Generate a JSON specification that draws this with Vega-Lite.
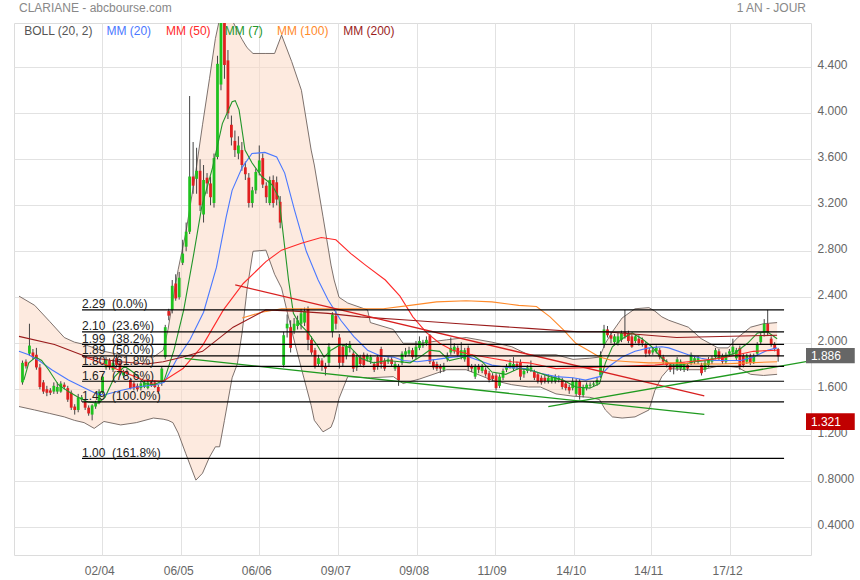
{
"$schema":"https://vega.github.io/schema/vega-lite/v6.json",
"width":797,"height":532,
"autosize":{"type":"none"},
"padding":{"left":14,"top":23,"right":49,"bottom":25},
"background":"white",
"config":{"font":"Liberation Sans","view":{"stroke":"#dcdcdc","strokeWidth":1}},
"resolve":{"scale":{"color":"independent"}},
"datasets":{
"band":[
{"x":0,"up":2.41,"lo":1.45},{"x":4.5,"up":2.33,"lo":1.42},{"x":8.8,"up":2.19,"lo":1.39},{"x":13.0,"up":2.05,"lo":1.36},{"x":15.9,"up":2.01,"lo":1.33},{"x":18.7,"up":1.99,"lo":1.31},{"x":21.6,"up":1.96,"lo":1.26},{"x":24.4,"up":1.93,"lo":1.32},{"x":29.2,"up":1.90,"lo":1.29},{"x":33.7,"up":1.89,"lo":1.31},{"x":38.6,"up":1.88,"lo":1.35},{"x":41.4,"up":1.94,"lo":1.34},{"x":42.8,"up":2.12,"lo":1.33},{"x":44.2,"up":2.38,"lo":1.31},{"x":45.7,"up":2.64,"lo":1.22},{"x":47.9,"up":2.96,"lo":1.04},{"x":50.8,"up":3.50,"lo":0.81},{"x":52.7,"up":3.90,"lo":0.87},{"x":54.7,"up":4.30,"lo":1.01},{"x":56.4,"up":4.65,"lo":1.10},{"x":57.6,"up":4.82,"lo":1.10},{"x":59.0,"up":4.90,"lo":1.33},{"x":61.2,"up":4.81,"lo":1.70},{"x":62.7,"up":4.72,"lo":1.82},{"x":64.1,"up":4.64,"lo":2.10},{"x":65.5,"up":4.57,"lo":2.47},{"x":67.2,"up":4.52,"lo":2.80},{"x":70.9,"up":4.52,"lo":2.81},{"x":73.4,"up":4.52,"lo":2.60},{"x":75.4,"up":4.68,"lo":2.48},{"x":78.3,"up":4.45,"lo":2.11},{"x":81.1,"up":4.20,"lo":1.78},{"x":83.9,"up":3.68,"lo":1.46},{"x":84.8,"up":3.55,"lo":1.33},{"x":87.3,"up":3.10,"lo":1.23},{"x":89.6,"up":2.68,"lo":1.27},{"x":90.5,"up":2.55,"lo":1.34},{"x":91.9,"up":2.40,"lo":1.52},{"x":94.4,"up":2.35,"lo":1.71},{"x":100.1,"up":2.29,"lo":1.70},{"x":100.9,"up":2.18,"lo":1.70},{"x":107.5,"up":2.12,"lo":1.71},{"x":110.3,"up":2.00,"lo":1.65},{"x":115.1,"up":2.00,"lo":1.69},{"x":122.8,"up":2.03,"lo":1.77},{"x":128.4,"up":2.05,"lo":1.77},{"x":135.8,"up":2.01,"lo":1.68},{"x":141.5,"up":1.97,"lo":1.64},{"x":146.3,"up":1.90,"lo":1.62},{"x":149.7,"up":1.90,"lo":1.62},{"x":154.2,"up":1.90,"lo":1.56},{"x":159.1,"up":1.86,"lo":1.54},{"x":163.9,"up":1.87,"lo":1.53},{"x":166.7,"up":1.88,"lo":1.51},{"x":168.4,"up":2.00,"lo":1.42},{"x":170.4,"up":2.10,"lo":1.36},{"x":173.2,"up":2.22,"lo":1.35},{"x":176.9,"up":2.30,"lo":1.36},{"x":180.9,"up":2.31,"lo":1.42},{"x":182.6,"up":2.28,"lo":1.59},{"x":184.6,"up":2.23,"lo":1.71},{"x":186.6,"up":2.20,"lo":1.78},{"x":192.2,"up":2.14,"lo":1.77},{"x":195.9,"up":2.04,"lo":1.77},{"x":200.7,"up":1.96,"lo":1.80},{"x":203.6,"up":1.96,"lo":1.80},{"x":206.4,"up":2.05,"lo":1.79},{"x":210.1,"up":2.14,"lo":1.73},{"x":213.8,"up":2.17,"lo":1.72},{"x":217.7,"up":2.18,"lo":1.73}
],
"candles":[
{"x":1,"o":1.66,"h":1.85,"l":1.64,"c":1.83},{"x":2,"o":1.84,"h":1.86,"l":1.78,"c":1.80},{"x":3,"o":1.91,"h":2.17,"l":1.89,"c":1.98},{"x":4,"o":1.92,"h":1.95,"l":1.86,"c":1.88},{"x":5,"o":1.90,"h":1.96,"l":1.77,"c":1.79},{"x":6,"o":1.79,"h":1.82,"l":1.60,"c":1.62},{"x":7,"o":1.66,"h":1.68,"l":1.56,"c":1.58},{"x":8,"o":1.60,"h":1.63,"l":1.54,"c":1.57},{"x":9,"o":1.59,"h":1.61,"l":1.55,"c":1.57},{"x":10,"o":1.58,"h":1.66,"l":1.56,"c":1.63},
{"x":11,"o":1.58,"h":1.66,"l":1.56,"c":1.62},{"x":12,"o":1.58,"h":1.67,"l":1.57,"c":1.65},{"x":13,"o":1.64,"h":1.66,"l":1.60,"c":1.62},{"x":14,"o":1.61,"h":1.63,"l":1.49,"c":1.51},{"x":15,"o":1.57,"h":1.59,"l":1.42,"c":1.44},{"x":16,"o":1.45,"h":1.47,"l":1.38,"c":1.42},{"x":17,"o":1.42,"h":1.56,"l":1.40,"c":1.53},{"x":18,"o":1.51,"h":1.55,"l":1.49,"c":1.53},{"x":19,"o":1.49,"h":1.51,"l":1.42,"c":1.44},{"x":20,"o":1.44,"h":1.46,"l":1.37,"c":1.39},
{"x":21,"o":1.38,"h":1.47,"l":1.33,"c":1.46},{"x":22,"o":1.45,"h":1.50,"l":1.43,"c":1.48},{"x":23,"o":1.48,"h":1.60,"l":1.47,"c":1.58},{"x":24,"o":1.57,"h":1.73,"l":1.56,"c":1.71},{"x":25,"o":1.79,"h":1.88,"l":1.77,"c":1.86},{"x":26,"o":1.85,"h":1.87,"l":1.77,"c":1.79},{"x":27,"o":1.77,"h":1.86,"l":1.75,"c":1.83},{"x":28,"o":1.87,"h":1.90,"l":1.79,"c":1.81},{"x":29,"o":1.83,"h":1.85,"l":1.72,"c":1.74},{"x":30,"o":1.72,"h":1.77,"l":1.70,"c":1.75},
{"x":31,"o":1.76,"h":1.78,"l":1.72,"c":1.74},{"x":32,"o":1.68,"h":1.70,"l":1.60,"c":1.61},{"x":33,"o":1.65,"h":1.67,"l":1.59,"c":1.61},{"x":34,"o":1.63,"h":1.65,"l":1.58,"c":1.60},{"x":35,"o":1.61,"h":1.67,"l":1.59,"c":1.65},{"x":36,"o":1.62,"h":1.68,"l":1.61,"c":1.66},{"x":37,"o":1.61,"h":1.68,"l":1.60,"c":1.66},{"x":38,"o":1.66,"h":1.68,"l":1.62,"c":1.63},{"x":39,"o":1.66,"h":1.68,"l":1.61,"c":1.62},{"x":40,"o":1.62,"h":1.64,"l":1.56,"c":1.58},
{"x":41,"o":1.66,"h":1.80,"l":1.63,"c":1.78},{"x":42,"o":1.88,"h":2.16,"l":1.86,"c":2.14},{"x":43,"o":2.28,"h":2.30,"l":2.20,"c":2.24},{"x":44,"o":2.29,"h":2.55,"l":2.26,"c":2.50},{"x":45,"o":2.52,"h":2.60,"l":2.37,"c":2.39},{"x":46,"o":2.40,"h":2.62,"l":2.38,"c":2.57},{"x":47,"o":2.70,"h":2.90,"l":2.68,"c":2.78},{"x":48,"o":2.84,"h":3.05,"l":2.80,"c":2.97},{"x":49,"o":2.97,"h":4.15,"l":2.95,"c":3.45},{"x":50,"o":3.45,"h":3.75,"l":3.30,"c":3.37},
{"x":51,"o":3.43,"h":3.70,"l":3.30,"c":3.50},{"x":52,"o":3.50,"h":3.60,"l":3.15,"c":3.20},{"x":53,"o":3.12,"h":3.55,"l":3.05,"c":3.42},{"x":54,"o":3.44,"h":3.48,"l":3.30,"c":3.39},{"x":55,"o":3.39,"h":3.45,"l":3.20,"c":3.27},{"x":56,"o":3.22,"h":3.65,"l":3.18,"c":3.61},{"x":57,"o":3.62,"h":4.50,"l":3.60,"c":4.43},{"x":58,"o":4.25,"h":4.85,"l":4.20,"c":4.80},{"x":59,"o":4.80,"h":4.85,"l":4.30,"c":4.42},{"x":60,"o":4.46,"h":4.55,"l":3.95,"c":4.00},
{"x":61,"o":3.90,"h":3.98,"l":3.72,"c":3.79},{"x":62,"o":3.76,"h":3.85,"l":3.62,"c":3.68},{"x":63,"o":3.65,"h":3.80,"l":3.60,"c":3.72},{"x":64,"o":3.68,"h":3.75,"l":3.50,"c":3.55},{"x":65,"o":3.53,"h":3.58,"l":3.42,"c":3.47},{"x":66,"o":3.44,"h":3.48,"l":3.18,"c":3.22},{"x":67,"o":3.22,"h":3.36,"l":3.18,"c":3.33},{"x":68,"o":3.33,"h":3.52,"l":3.30,"c":3.49},{"x":69,"o":3.49,"h":3.72,"l":3.46,"c":3.59},{"x":70,"o":3.61,"h":3.65,"l":3.35,"c":3.38},
{"x":71,"o":3.37,"h":3.40,"l":3.22,"c":3.27},{"x":72,"o":3.22,"h":3.45,"l":3.20,"c":3.42},{"x":73,"o":3.42,"h":3.46,"l":3.18,"c":3.22},{"x":74,"o":3.40,"h":3.45,"l":3.20,"c":3.25},{"x":75,"o":3.23,"h":3.28,"l":3.00,"c":3.05},{"x":76,"o":1.81,"h":2.10,"l":1.79,"c":2.07},{"x":77,"o":2.13,"h":2.25,"l":2.05,"c":2.17},{"x":78,"o":2.14,"h":2.20,"l":1.92,"c":1.96},{"x":79,"o":2.11,"h":2.22,"l":2.08,"c":2.17},{"x":80,"o":2.15,"h":2.24,"l":2.12,"c":2.20},
{"x":81,"o":2.17,"h":2.30,"l":2.12,"c":2.26},{"x":82,"o":2.18,"h":2.31,"l":2.15,"c":2.28},{"x":83,"o":2.30,"h":2.32,"l":1.94,"c":2.03},{"x":84,"o":2.03,"h":2.06,"l":1.90,"c":1.92},{"x":85,"o":1.94,"h":1.96,"l":1.78,"c":1.80},{"x":86,"o":1.82,"h":1.90,"l":1.80,"c":1.87},{"x":87,"o":1.85,"h":1.87,"l":1.76,"c":1.80},{"x":88,"o":1.80,"h":1.83,"l":1.72,"c":1.78},{"x":89,"o":1.83,"h":2.00,"l":1.80,"c":1.97},{"x":90,"o":2.10,"h":2.27,"l":2.05,"c":2.25},
{"x":91,"o":2.24,"h":2.28,"l":2.12,"c":2.17},{"x":92,"o":2.05,"h":2.08,"l":1.78,"c":1.83},{"x":93,"o":1.97,"h":1.99,"l":1.80,"c":1.83},{"x":94,"o":1.89,"h":2.00,"l":1.86,"c":1.97},{"x":95,"o":1.96,"h":2.02,"l":1.92,"c":1.99},{"x":96,"o":1.91,"h":1.93,"l":1.75,"c":1.78},{"x":97,"o":1.79,"h":1.90,"l":1.76,"c":1.88},{"x":98,"o":1.88,"h":1.90,"l":1.80,"c":1.82},{"x":99,"o":1.90,"h":1.92,"l":1.79,"c":1.81},{"x":100,"o":1.86,"h":1.91,"l":1.84,"c":1.89},
{"x":101,"o":1.85,"h":1.90,"l":1.82,"c":1.88},{"x":102,"o":1.82,"h":1.84,"l":1.75,"c":1.77},{"x":103,"o":1.88,"h":1.90,"l":1.77,"c":1.80},{"x":104,"o":1.95,"h":1.97,"l":1.78,"c":1.82},{"x":105,"o":1.85,"h":1.87,"l":1.76,"c":1.78},{"x":106,"o":1.84,"h":1.88,"l":1.82,"c":1.86},{"x":107,"o":1.86,"h":1.88,"l":1.80,"c":1.82},{"x":108,"o":1.78,"h":1.84,"l":1.76,"c":1.82},{"x":109,"o":1.80,"h":1.82,"l":1.63,"c":1.68},{"x":110,"o":1.83,"h":1.93,"l":1.81,"c":1.91},
{"x":111,"o":1.90,"h":1.96,"l":1.88,"c":1.93},{"x":112,"o":1.91,"h":1.97,"l":1.89,"c":1.94},{"x":113,"o":1.94,"h":1.96,"l":1.86,"c":1.88},{"x":114,"o":1.88,"h":2.02,"l":1.86,"c":1.97},{"x":115,"o":1.96,"h":2.06,"l":1.94,"c":2.02},{"x":116,"o":1.98,"h":2.03,"l":1.96,"c":2.00},{"x":117,"o":2.00,"h":2.06,"l":1.98,"c":2.03},{"x":118,"o":2.07,"h":2.08,"l":1.82,"c":1.84},{"x":119,"o":1.84,"h":1.86,"l":1.77,"c":1.79},{"x":120,"o":1.82,"h":1.84,"l":1.76,"c":1.78},
{"x":121,"o":1.80,"h":1.82,"l":1.74,"c":1.78},{"x":122,"o":1.77,"h":1.83,"l":1.75,"c":1.80},{"x":123,"o":1.86,"h":1.92,"l":1.84,"c":1.89},{"x":124,"o":1.92,"h":2.05,"l":1.90,"c":1.96},{"x":125,"o":1.93,"h":2.00,"l":1.91,"c":1.97},{"x":126,"o":1.96,"h":1.98,"l":1.88,"c":1.90},{"x":127,"o":1.88,"h":2.01,"l":1.86,"c":1.94},{"x":128,"o":1.86,"h":1.96,"l":1.84,"c":1.94},{"x":129,"o":1.96,"h":1.98,"l":1.76,"c":1.80},{"x":130,"o":1.80,"h":1.82,"l":1.75,"c":1.78},
{"x":131,"o":1.71,"h":1.82,"l":1.69,"c":1.80},{"x":132,"o":1.80,"h":1.82,"l":1.74,"c":1.77},{"x":133,"o":1.76,"h":1.82,"l":1.74,"c":1.80},{"x":134,"o":1.77,"h":1.79,"l":1.71,"c":1.73},{"x":135,"o":1.74,"h":1.76,"l":1.66,"c":1.68},{"x":136,"o":1.72,"h":1.74,"l":1.67,"c":1.69},{"x":137,"o":1.72,"h":1.74,"l":1.59,"c":1.61},{"x":138,"o":1.63,"h":1.73,"l":1.61,"c":1.71},{"x":139,"o":1.70,"h":1.78,"l":1.68,"c":1.76},{"x":140,"o":1.77,"h":1.82,"l":1.75,"c":1.80},
{"x":141,"o":1.80,"h":1.86,"l":1.78,"c":1.83},{"x":142,"o":1.78,"h":1.88,"l":1.76,"c":1.82},{"x":143,"o":1.82,"h":1.84,"l":1.77,"c":1.80},{"x":144,"o":1.83,"h":1.86,"l":1.68,"c":1.71},{"x":145,"o":1.73,"h":1.78,"l":1.70,"c":1.76},{"x":146,"o":1.76,"h":1.81,"l":1.74,"c":1.79},{"x":147,"o":1.77,"h":1.85,"l":1.75,"c":1.79},{"x":148,"o":1.75,"h":1.77,"l":1.68,"c":1.70},{"x":149,"o":1.73,"h":1.75,"l":1.65,"c":1.67},{"x":150,"o":1.70,"h":1.72,"l":1.64,"c":1.66},
{"x":151,"o":1.70,"h":1.73,"l":1.65,"c":1.67},{"x":152,"o":1.67,"h":1.73,"l":1.65,"c":1.70},{"x":153,"o":1.67,"h":1.72,"l":1.65,"c":1.70},{"x":154,"o":1.67,"h":1.73,"l":1.65,"c":1.71},{"x":155,"o":1.68,"h":1.72,"l":1.66,"c":1.70},{"x":156,"o":1.68,"h":1.70,"l":1.60,"c":1.62},{"x":157,"o":1.65,"h":1.67,"l":1.59,"c":1.61},{"x":158,"o":1.62,"h":1.64,"l":1.56,"c":1.59},{"x":159,"o":1.61,"h":1.70,"l":1.59,"c":1.67},{"x":160,"o":1.56,"h":1.69,"l":1.54,"c":1.67},
{"x":161,"o":1.67,"h":1.69,"l":1.51,"c":1.55},{"x":162,"o":1.55,"h":1.64,"l":1.53,"c":1.62},{"x":163,"o":1.61,"h":1.66,"l":1.59,"c":1.64},{"x":164,"o":1.63,"h":1.66,"l":1.61,"c":1.64},{"x":165,"o":1.64,"h":1.67,"l":1.62,"c":1.65},{"x":166,"o":1.65,"h":1.70,"l":1.63,"c":1.68},{"x":167,"o":1.72,"h":1.93,"l":1.70,"c":1.90},{"x":168,"o":1.99,"h":2.16,"l":1.96,"c":2.12},{"x":169,"o":2.12,"h":2.15,"l":2.05,"c":2.07},{"x":170,"o":2.07,"h":2.10,"l":2.00,"c":2.04},
{"x":171,"o":2.01,"h":2.08,"l":1.99,"c":2.06},{"x":172,"o":2.00,"h":2.09,"l":1.98,"c":2.06},{"x":173,"o":2.03,"h":2.11,"l":2.01,"c":2.09},{"x":174,"o":2.10,"h":2.29,"l":2.04,"c":2.06},{"x":175,"o":2.09,"h":2.11,"l":2.00,"c":2.02},{"x":176,"o":2.06,"h":2.08,"l":1.96,"c":1.97},{"x":177,"o":2.02,"h":2.08,"l":2.00,"c":2.06},{"x":178,"o":2.04,"h":2.07,"l":1.98,"c":2.00},{"x":179,"o":2.03,"h":2.05,"l":1.97,"c":2.00},{"x":180,"o":1.99,"h":2.01,"l":1.88,"c":1.91},
{"x":181,"o":1.94,"h":1.96,"l":1.89,"c":1.91},{"x":182,"o":1.92,"h":1.96,"l":1.90,"c":1.94},{"x":183,"o":1.93,"h":1.98,"l":1.91,"c":1.96},{"x":184,"o":1.94,"h":1.96,"l":1.86,"c":1.88},{"x":185,"o":1.88,"h":1.90,"l":1.82,"c":1.84},{"x":186,"o":1.84,"h":1.86,"l":1.79,"c":1.81},{"x":187,"o":1.81,"h":1.83,"l":1.75,"c":1.77},{"x":188,"o":1.80,"h":1.82,"l":1.73,"c":1.79},{"x":189,"o":1.78,"h":1.88,"l":1.76,"c":1.86},{"x":190,"o":1.78,"h":1.86,"l":1.76,"c":1.84},
{"x":191,"o":1.77,"h":1.83,"l":1.75,"c":1.81},{"x":192,"o":1.81,"h":1.83,"l":1.76,"c":1.78},{"x":193,"o":1.83,"h":1.92,"l":1.81,"c":1.90},{"x":194,"o":1.84,"h":1.89,"l":1.82,"c":1.87},{"x":195,"o":1.84,"h":1.89,"l":1.82,"c":1.87},{"x":196,"o":1.81,"h":1.83,"l":1.72,"c":1.74},{"x":197,"o":1.77,"h":1.85,"l":1.75,"c":1.83},{"x":198,"o":1.81,"h":1.88,"l":1.79,"c":1.86},{"x":199,"o":1.84,"h":1.89,"l":1.82,"c":1.87},{"x":200,"o":1.88,"h":1.96,"l":1.86,"c":1.94},
{"x":201,"o":1.93,"h":1.95,"l":1.85,"c":1.87},{"x":202,"o":1.89,"h":1.91,"l":1.82,"c":1.84},{"x":203,"o":1.84,"h":1.92,"l":1.82,"c":1.90},{"x":204,"o":1.91,"h":1.95,"l":1.89,"c":1.93},{"x":205,"o":1.92,"h":2.04,"l":1.90,"c":1.97},{"x":206,"o":1.87,"h":1.96,"l":1.85,"c":1.94},{"x":207,"o":1.96,"h":1.98,"l":1.77,"c":1.80},{"x":208,"o":1.89,"h":1.91,"l":1.79,"c":1.81},{"x":209,"o":1.84,"h":1.91,"l":1.82,"c":1.89},{"x":210,"o":1.89,"h":1.91,"l":1.81,"c":1.83},
{"x":211,"o":1.84,"h":1.91,"l":1.82,"c":1.89},{"x":212,"o":1.91,"h":2.01,"l":1.89,"c":1.99},{"x":213,"o":2.01,"h":2.09,"l":1.99,"c":2.07},{"x":214,"o":2.09,"h":2.21,"l":2.06,"c":2.17},{"x":215,"o":2.17,"h":2.29,"l":2.07,"c":2.09},{"x":216,"o":2.04,"h":2.06,"l":1.97,"c":1.99},{"x":217,"o":1.99,"h":2.01,"l":1.93,"c":1.95},{"x":218,"o":1.95,"h":1.96,"l":1.84,"c":1.886}
],
"ma":[
{"s":"MM20","x":0,"v":1.93},{"s":"MM20","x":2.8,"v":1.90},{"s":"MM20","x":5.7,"v":1.85},{"s":"MM20","x":9.4,"v":1.77},{"s":"MM20","x":14.2,"v":1.68},{"s":"MM20","x":19,"v":1.61},{"s":"MM20","x":22.4,"v":1.56},{"s":"MM20","x":24.4,"v":1.55},{"s":"MM20","x":29.2,"v":1.59},{"s":"MM20","x":33.7,"v":1.62},{"s":"MM20","x":39.4,"v":1.64},{"s":"MM20","x":41.7,"v":1.66},{"s":"MM20","x":45.1,"v":1.85},{"s":"MM20","x":49.1,"v":2.03},{"s":"MM20","x":53,"v":2.27},{"s":"MM20","x":56.7,"v":2.66},{"s":"MM20","x":59.5,"v":3.1},{"s":"MM20","x":61.2,"v":3.33},{"s":"MM20","x":64.1,"v":3.53},{"s":"MM20","x":66.9,"v":3.65},{"s":"MM20","x":70.6,"v":3.66},{"s":"MM20","x":74,"v":3.62},{"s":"MM20","x":76.3,"v":3.48},{"s":"MM20","x":79.1,"v":3.16},{"s":"MM20","x":82.5,"v":2.8},{"s":"MM20","x":85.9,"v":2.55},{"s":"MM20","x":88.7,"v":2.38},{"s":"MM20","x":92.4,"v":2.2},{"s":"MM20","x":96.1,"v":2.06},{"s":"MM20","x":100.1,"v":1.94},{"s":"MM20","x":103.8,"v":1.89},{"s":"MM20","x":107.5,"v":1.88},{"s":"MM20","x":110.3,"v":1.85},{"s":"MM20","x":114.3,"v":1.84},{"s":"MM20","x":119.9,"v":1.86},{"s":"MM20","x":124.5,"v":1.88},{"s":"MM20","x":128.4,"v":1.89},{"s":"MM20","x":132.1,"v":1.85},{"s":"MM20","x":135.8,"v":1.81},{"s":"MM20","x":140.6,"v":1.79},{"s":"MM20","x":145.4,"v":1.78},{"s":"MM20","x":149.7,"v":1.74},{"s":"MM20","x":154.2,"v":1.71},{"s":"MM20","x":159.1,"v":1.70},{"s":"MM20","x":162.7,"v":1.68},{"s":"MM20","x":166.7,"v":1.71},{"s":"MM20","x":169.5,"v":1.80},{"s":"MM20","x":173.2,"v":1.88},{"s":"MM20","x":176.9,"v":1.93},{"s":"MM20","x":180.9,"v":1.96},{"s":"MM20","x":184.6,"v":1.97},{"s":"MM20","x":186.6,"v":1.96},{"s":"MM20","x":192.2,"v":1.90},{"s":"MM20","x":195.9,"v":1.87},{"s":"MM20","x":199.6,"v":1.85},{"s":"MM20","x":203.6,"v":1.85},{"s":"MM20","x":207.3,"v":1.85},{"s":"MM20","x":210.9,"v":1.88},{"s":"MM20","x":214.9,"v":1.94},{"s":"MM20","x":217.7,"v":1.96},
{"s":"MM7","x":1.4,"v":1.68},{"s":"MM7","x":2.8,"v":1.83},{"s":"MM7","x":4.8,"v":1.88},{"s":"MM7","x":6.5,"v":1.85},{"s":"MM7","x":8.5,"v":1.77},{"s":"MM7","x":11.3,"v":1.64},{"s":"MM7","x":14.2,"v":1.58},{"s":"MM7","x":17,"v":1.53},{"s":"MM7","x":19.8,"v":1.49},{"s":"MM7","x":22.7,"v":1.48},{"s":"MM7","x":24.7,"v":1.53},{"s":"MM7","x":27.5,"v":1.71},{"s":"MM7","x":30.3,"v":1.80},{"s":"MM7","x":33.2,"v":1.74},{"s":"MM7","x":36,"v":1.65},{"s":"MM7","x":38.8,"v":1.64},{"s":"MM7","x":41.7,"v":1.68},{"s":"MM7","x":44.5,"v":1.94},{"s":"MM7","x":47.3,"v":2.29},{"s":"MM7","x":50.2,"v":2.78},{"s":"MM7","x":52.5,"v":3.19},{"s":"MM7","x":55.6,"v":3.53},{"s":"MM7","x":58.4,"v":3.91},{"s":"MM7","x":61.2,"v":4.10},{"s":"MM7","x":62.1,"v":4.11},{"s":"MM7","x":63.2,"v":4.03},{"s":"MM7","x":64.9,"v":3.68},{"s":"MM7","x":66.9,"v":3.57},{"s":"MM7","x":69.7,"v":3.45},{"s":"MM7","x":72.6,"v":3.38},{"s":"MM7","x":74.6,"v":3.27},{"s":"MM7","x":75.4,"v":3.07},{"s":"MM7","x":77.4,"v":2.55},{"s":"MM7","x":78.8,"v":2.26},{"s":"MM7","x":80.5,"v":2.17},{"s":"MM7","x":83.1,"v":2.09},{"s":"MM7","x":85.9,"v":1.97},{"s":"MM7","x":87.6,"v":1.88},{"s":"MM7","x":89.6,"v":1.94},{"s":"MM7","x":92.4,"v":1.99},{"s":"MM7","x":95.3,"v":1.96},{"s":"MM7","x":98.1,"v":1.87},{"s":"MM7","x":101.8,"v":1.83},{"s":"MM7","x":105.8,"v":1.85},{"s":"MM7","x":109.4,"v":1.84},{"s":"MM7","x":112.3,"v":1.83},{"s":"MM7","x":115.1,"v":1.88},{"s":"MM7","x":117.9,"v":1.94},{"s":"MM7","x":120.8,"v":1.93},{"s":"MM7","x":123.6,"v":1.85},{"s":"MM7","x":126.5,"v":1.87},{"s":"MM7","x":130.1,"v":1.90},{"s":"MM7","x":133,"v":1.84},{"s":"MM7","x":135.8,"v":1.75},{"s":"MM7","x":139.8,"v":1.73},{"s":"MM7","x":143.5,"v":1.78},{"s":"MM7","x":146.3,"v":1.77},{"s":"MM7","x":148.6,"v":1.75},{"s":"MM7","x":152.5,"v":1.71},{"s":"MM7","x":156.2,"v":1.68},{"s":"MM7","x":159.9,"v":1.62},{"s":"MM7","x":163.9,"v":1.61},{"s":"MM7","x":166.7,"v":1.65},{"s":"MM7","x":168.4,"v":1.83},{"s":"MM7","x":170.4,"v":1.97},{"s":"MM7","x":173.2,"v":2.04},{"s":"MM7","x":176.1,"v":2.09},{"s":"MM7","x":178.9,"v":2.04},{"s":"MM7","x":181.7,"v":1.97},{"s":"MM7","x":184.6,"v":1.87},{"s":"MM7","x":187.4,"v":1.81},{"s":"MM7","x":190.2,"v":1.81},{"s":"MM7","x":193.9,"v":1.84},{"s":"MM7","x":197.9,"v":1.85},{"s":"MM7","x":201.6,"v":1.88},{"s":"MM7","x":205.3,"v":1.91},{"s":"MM7","x":209.2,"v":2.00},{"s":"MM7","x":212.1,"v":2.09},{"s":"MM7","x":214.9,"v":2.10},{"s":"MM7","x":217.7,"v":2.04},
{"s":"MM50","x":18.1,"v":1.89},{"s":"MM50","x":24.4,"v":1.82},{"s":"MM50","x":30.1,"v":1.75},{"s":"MM50","x":35.7,"v":1.68},{"s":"MM50","x":41.4,"v":1.67},{"s":"MM50","x":47.1,"v":1.78},{"s":"MM50","x":52.7,"v":1.98},{"s":"MM50","x":58.7,"v":2.29},{"s":"MM50","x":64.4,"v":2.52},{"s":"MM50","x":70.9,"v":2.71},{"s":"MM50","x":75.4,"v":2.81},{"s":"MM50","x":81.1,"v":2.87},{"s":"MM50","x":86.8,"v":2.92},{"s":"MM50","x":91,"v":2.90},{"s":"MM50","x":95.3,"v":2.78},{"s":"MM50","x":99.5,"v":2.68},{"s":"MM50","x":105.2,"v":2.55},{"s":"MM50","x":109.4,"v":2.41},{"s":"MM50","x":113.1,"v":2.23},{"s":"MM50","x":117.1,"v":2.09},{"s":"MM50","x":120.8,"v":2.00},{"s":"MM50","x":124.5,"v":1.94},{"s":"MM50","x":130.1,"v":1.90},{"s":"MM50","x":135.8,"v":1.87},{"s":"MM50","x":141.5,"v":1.84},{"s":"MM50","x":146.3,"v":1.83},{"s":"MM50","x":154.2,"v":1.78},{"s":"MM50","x":163.9,"v":1.79},{"s":"MM50","x":173.2,"v":1.80},{"s":"MM50","x":182.6,"v":1.81},{"s":"MM50","x":192.2,"v":1.84},{"s":"MM50","x":201.6,"v":1.87},{"s":"MM50","x":210.9,"v":1.93},{"s":"MM50","x":217.7,"v":1.94},
{"s":"MM100","x":64.1,"v":2.22},{"s":"MM100","x":69.7,"v":2.27},{"s":"MM100","x":75.4,"v":2.30},{"s":"MM100","x":86.8,"v":2.30},{"s":"MM100","x":104.6,"v":2.30},{"s":"MM100","x":112.3,"v":2.33},{"s":"MM100","x":119.9,"v":2.36},{"s":"MM100","x":128.4,"v":2.37},{"s":"MM100","x":135.8,"v":2.36},{"s":"MM100","x":143.5,"v":2.33},{"s":"MM100","x":148.6,"v":2.32},{"s":"MM100","x":152.5,"v":2.23},{"s":"MM100","x":156.2,"v":2.12},{"s":"MM100","x":159.9,"v":2.00},{"s":"MM100","x":163.9,"v":1.93},{"s":"MM100","x":166.7,"v":1.88},{"s":"MM100","x":170.4,"v":1.85},{"s":"MM100","x":175.2,"v":1.84},{"s":"MM100","x":180.9,"v":1.83},{"s":"MM100","x":187.4,"v":1.83},{"s":"MM100","x":193.9,"v":1.82},{"s":"MM100","x":201.6,"v":1.82},{"s":"MM100","x":209.2,"v":1.83},{"s":"MM100","x":217.7,"v":1.84},
{"s":"MM200","x":0,"v":2.06},{"s":"MM200","x":10.2,"v":1.99},{"s":"MM200","x":19.6,"v":1.88},{"s":"MM200","x":29.2,"v":1.84},{"s":"MM200","x":36.6,"v":1.82},{"s":"MM200","x":41.4,"v":1.84},{"s":"MM200","x":47.1,"v":1.88},{"s":"MM200","x":52.7,"v":1.93},{"s":"MM200","x":61.5,"v":2.14},{"s":"MM200","x":70.9,"v":2.29},{"s":"MM200","x":79.1,"v":2.28},{"s":"MM200","x":88.7,"v":2.26},{"s":"MM200","x":98.1,"v":2.23},{"s":"MM200","x":112.3,"v":2.20},{"s":"MM200","x":126.5,"v":2.17},{"s":"MM200","x":146.3,"v":2.13},{"s":"MM200","x":160.5,"v":2.10},{"s":"MM200","x":168.4,"v":2.10},{"s":"MM200","x":188.8,"v":2.05},{"s":"MM200","x":217.7,"v":2.07}
],
"trend":[
{"id":"r","x":62.1,"v":2.507},{"id":"r","x":196.8,"v":1.542},
{"id":"g1","x":47.6,"v":1.868},{"id":"g1","x":196.8,"v":1.381},
{"id":"g2","x":152.0,"v":1.45},{"id":"g2","x":226,"v":1.84}
],
"fib":[
{"v":2.29,"t":"2.29\u00a0 (0.0%)"},{"v":2.10,"t":"2.10\u00a0 (23.6%)"},{"v":1.99,"t":"1.99\u00a0 (38.2%)"},{"v":1.89,"t":"1.89\u00a0 (50.0%)"},{"v":1.80,"t":"1.80\u00a0 (61.8%)"},{"v":1.67,"t":"1.67\u00a0 (78.6%)"},{"v":1.49,"t":"1.49\u00a0 (100.0%)"},{"v":1.00,"t":"1.00\u00a0 (161.8%)"}
],
"legend":[
{"t":"BOLL (20, 2)","x":1.5},{"t":"MM (20)","x":25.1},{"t":"MM (50)","x":42.2},{"t":"MM (7)","x":59.1},{"t":"MM (100)","x":74.1},{"t":"MM (200)","x":93.1}
],
"titles":[
{"t":"CLARIANE - abcbourse.com","x":0,"a":"left"},{"t":"1 AN - JOUR","x":226,"a":"right"}
],
"price":[
{"t":"1.886","v":1.89,"top":1.958,"bot":1.826},{"t":"1.321","v":1.318,"top":1.391,"bot":1.246}
]
},
"layer":[
{"data":{"name":"band"},"mark":{"type":"area","color":"#fcd9c4","opacity":0.55,"clip":true},
 "encoding":{
  "x":{"field":"x","type":"quantitative","scale":{"domain":[0,226],"nice":false,"zero":false},
   "axis":{"values":[23.9,46.6,69.0,91.7,114.2,136.6,159.3,181.5,204.2],
    "labelExpr":"datum.value<30?'02/04':datum.value<50?'06/05':datum.value<80?'06/06':datum.value<100?'09/07':datum.value<120?'09/08':datum.value<145?'11/09':datum.value<170?'14/10':datum.value<190?'14/11':'17/12'",
    "title":null,"ticks":false,"domain":false,"grid":true,"gridColor":"#e2e2e2","labelColor":"#666666","labelFontSize":12,"labelPadding":10,"labelOffset":-3,"labelFlush":false}},
  "y":{"field":"up","type":"quantitative","scale":{"domain":[0.159,4.785],"nice":false,"zero":false},
   "axis":{"orient":"right","values":[0.4,0.8,1.2,1.6,2.0,2.4,2.8,3.2,3.6,4.0,4.4],
    "labelExpr":"datum.value>=1?format(datum.value,'.3f'):format(datum.value,'.4f')",
    "title":null,"ticks":false,"domain":false,"grid":true,"gridColor":"#e2e2e2","labelColor":"#666666","labelFontSize":12,"labelPadding":6,"labelOffset":-3}},
  "y2":{"field":"lo"}}},
{"data":{"name":"band"},"mark":{"type":"line","color":"#6e625e","strokeWidth":0.9,"clip":true},
 "encoding":{"x":{"field":"x","type":"quantitative","scale":{"domain":[0,226],"nice":false,"zero":false}},
  "y":{"field":"up","type":"quantitative","scale":{"domain":[0.159,4.785],"nice":false,"zero":false}}}},
{"data":{"name":"band"},"mark":{"type":"line","color":"#6e625e","strokeWidth":0.9,"clip":true},
 "encoding":{"x":{"field":"x","type":"quantitative","scale":{"domain":[0,226],"nice":false,"zero":false}},
  "y":{"field":"lo","type":"quantitative","scale":{"domain":[0.159,4.785],"nice":false,"zero":false}}}},
{"data":{"name":"candles"},"mark":{"type":"rule","color":"#444444","strokeWidth":1,"clip":true},
 "encoding":{"x":{"field":"x","type":"quantitative","scale":{"domain":[0,226],"nice":false,"zero":false}},
  "y":{"field":"h","type":"quantitative","scale":{"domain":[0.159,4.785],"nice":false,"zero":false}},
  "y2":{"field":"l"}}},
{"data":{"name":"candles"},"mark":{"type":"bar","width":2.8,"clip":true},
 "encoding":{"x":{"field":"x","type":"quantitative","scale":{"domain":[0,226],"nice":false,"zero":false}},
  "y":{"field":"o","type":"quantitative","scale":{"domain":[0.159,4.785],"nice":false,"zero":false}},
  "y2":{"field":"c"},
  "color":{"condition":{"test":"datum.c>=datum.o","value":"#1fc21f"},"value":"#e02020"}}},
{"data":{"name":"ma"},"mark":{"type":"line","strokeWidth":1.1,"clip":true},
 "encoding":{"x":{"field":"x","type":"quantitative","scale":{"domain":[0,226],"nice":false,"zero":false}},
  "y":{"field":"v","type":"quantitative","scale":{"domain":[0.159,4.785],"nice":false,"zero":false}},
  "color":{"field":"s","type":"nominal","scale":{"domain":["MM20","MM50","MM7","MM100","MM200"],"range":["#4a78ff","#ff2a2a","#22962a","#ff8a2a","#9a1c1c"]},"legend":null},
  "strokeWidth":{"field":"s","type":"nominal","scale":{"domain":["MM20","MM50","MM7","MM100","MM200"],"range":[1,1,1.1,1.1,1.6]},"legend":null}}},
{"data":{"name":"trend"},"mark":{"type":"line","strokeWidth":1.3,"clip":true},
 "encoding":{"x":{"field":"x","type":"quantitative","scale":{"domain":[0,226],"nice":false,"zero":false}},
  "y":{"field":"v","type":"quantitative","scale":{"domain":[0.159,4.785],"nice":false,"zero":false}},
  "color":{"field":"id","type":"nominal","scale":{"domain":["r","g1","g2"],"range":["#d82020","#1f9a1f","#1f9a1f"]},"legend":null}}},
{"data":{"name":"fib"},"mark":{"type":"rule","color":"#000000","strokeWidth":1.2},
 "encoding":{"x":{"datum":18.1,"type":"quantitative","scale":{"domain":[0,226],"nice":false,"zero":false}},
  "x2":{"datum":219.7},
  "y":{"field":"v","type":"quantitative","scale":{"domain":[0.159,4.785],"nice":false,"zero":false}}}},
{"data":{"name":"fib"},"mark":{"type":"text","align":"left","baseline":"alphabetic","dy":-1.5,"fontSize":12,"color":"#222222"},
 "encoding":{"x":{"datum":18.1,"type":"quantitative","scale":{"domain":[0,226],"nice":false,"zero":false}},
  "y":{"field":"v","type":"quantitative","scale":{"domain":[0.159,4.785],"nice":false,"zero":false}},
  "text":{"field":"t"}}},
{"data":{"name":"legend"},"mark":{"type":"text","align":"left","baseline":"middle","fontSize":12},
 "encoding":{"x":{"field":"x","type":"quantitative","scale":{"domain":[0,226],"nice":false,"zero":false}},
  "y":{"datum":4.716,"type":"quantitative","scale":{"domain":[0.159,4.785],"nice":false,"zero":false}},
  "text":{"field":"t"},
  "color":{"field":"t","type":"nominal","scale":{"domain":["BOLL (20, 2)","MM (20)","MM (50)","MM (7)","MM (100)","MM (200)"],"range":["#555555","#4a78ff","#ff2a2a","#22962a","#ff8a2a","#9a1c1c"]},"legend":null}}},
{"data":{"name":"titles"},"transform":[{"filter":"datum.a==='left'"}],"mark":{"type":"text","align":"left","baseline":"middle","fontSize":12,"color":"#888888"},
 "encoding":{"x":{"field":"x","type":"quantitative","scale":{"domain":[0,226],"nice":false,"zero":false}},
  "y":{"datum":4.916,"type":"quantitative","scale":{"domain":[0.159,4.785],"nice":false,"zero":false}},
  "text":{"field":"t"}}},
{"data":{"name":"titles"},"transform":[{"filter":"datum.a==='right'"}],"mark":{"type":"text","align":"right","baseline":"middle","fontSize":12,"color":"#888888"},
 "encoding":{"x":{"field":"x","type":"quantitative","scale":{"domain":[0,226],"nice":false,"zero":false}},
  "y":{"datum":4.916,"type":"quantitative","scale":{"domain":[0.159,4.785],"nice":false,"zero":false}},
  "text":{"field":"t"}}},
{"data":{"name":"price"},"mark":{"type":"rect"},
 "encoding":{"x":{"datum":226,"type":"quantitative","scale":{"domain":[0,226],"nice":false,"zero":false}},
  "x2":{"datum":240},
  "y":{"field":"top","type":"quantitative","scale":{"domain":[0.159,4.785],"nice":false,"zero":false}},
  "y2":{"field":"bot"},
  "color":{"field":"t","type":"nominal","scale":{"domain":["1.886","1.321"],"range":["#666666","#c00000"]},"legend":null}}},
{"data":{"name":"price"},"mark":{"type":"text","align":"left","baseline":"middle","fontSize":12,"color":"white"},
 "encoding":{"x":{"datum":227.4,"type":"quantitative","scale":{"domain":[0,226],"nice":false,"zero":false}},
  "y":{"field":"v","type":"quantitative","scale":{"domain":[0.159,4.785],"nice":false,"zero":false}},
  "text":{"field":"t"}}}
]
}
